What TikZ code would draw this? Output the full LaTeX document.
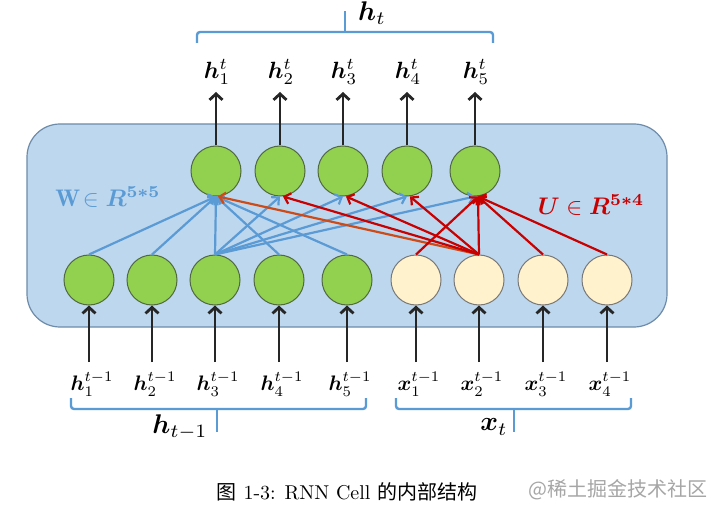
\documentclass[tikz,border=0pt]{standalone}
\usepackage{fontspec}
\usepackage{bm}
\newfontfamily\cjk{Noto Sans CJK SC}
\usetikzlibrary{arrows.meta}
\definecolor{boxfill}{RGB}{189,215,238}
\definecolor{boxdraw}{RGB}{110,140,170}
\definecolor{hgreen}{RGB}{146,208,80}
\definecolor{hgreenb}{RGB}{80,105,65}
\definecolor{xcream}{RGB}{255,242,204}
\definecolor{xcreamb}{RGB}{120,120,120}
\definecolor{wblue}{RGB}{91,155,213}
\definecolor{ured}{RGB}{200,0,0}
\definecolor{uorange}{RGB}{205,75,25}
\definecolor{darkarrow}{RGB}{38,38,38}
\begin{document}
\begin{tikzpicture}[x=1pt,y=-1pt,
  hnode/.style={circle,minimum size=50pt,inner sep=0pt,fill=hgreen,draw=hgreenb,line width=1pt},
  xnode/.style={circle,minimum size=50pt,inner sep=0pt,fill=xcream,draw=xcreamb,line width=1pt},
  lbl/.style={inner sep=0pt,scale=2.1},
  toplbl/.style={inner sep=0pt,scale=2.35},
  biglbl/.style={inner sep=0pt,scale=2.7},
  io/.style={draw=darkarrow,line width=2.8pt,-{Straight Barb[length=6pt,width=13pt]}},
  warrow/.style={draw=wblue,line width=2.2pt,-{Straight Barb[length=5.5pt,width=11pt]}},
  uarrow/.style={draw=ured,line width=2.2pt,-{Straight Barb[length=5.5pt,width=11pt]}},
  bracket/.style={draw=wblue,line width=2.4pt,rounded corners=3pt},
]
\useasboundingbox (0,0) rectangle (720,513);
\fill[white] (0,0) rectangle (720,513);

% cell box
\node[draw=boxdraw,fill=boxfill,line width=1.2pt,rounded corners=33pt,
      minimum width=640pt,minimum height=203pt,inner sep=0pt] (cell) at (347,225.5) {};

% top nodes
\foreach \i/\x in {1/216,2/280,3/343,4/407,5/475}{
  \node[hnode] (t\i) at (\x,171) {};
  \node[toplbl] (lt\i) at (\x+1,72) {$\bm{h}_{\i}^{t}$};
  \coordinate (at\i) at (\x,92);
}
% bottom nodes
\foreach \i/\x in {1/89,2/152,3/215,4/279,5/347}{
  \node[hnode] (b\i) at (\x,280) {};
  \node[lbl] (lb\i) at (\x+3,384) {$\bm{h}_{\i}^{t-1}$};
  \coordinate (ab\i) at (\x,362);
}
\foreach \i/\x in {1/416,2/479,3/543,4/607}{
  \node[xnode] (x\i) at (\x,280) {};
  \node[lbl] (lx\i) at (\x+3,384) {$\bm{x}_{\i}^{t-1}$};
  \coordinate (ax\i) at (\x,362);
}

% input/output arrows
\foreach \i in {1,...,5}{
  \draw[io] (t\i.north) -- (at\i);
  \draw[io] (ab\i) -- (b\i.south);
}
\foreach \i in {1,...,4}{
  \draw[io] (ax\i) -- (x\i.south);
}

% W connections
\foreach \i in {1,2,4,5}{
  \draw[warrow] (b\i.north) -- (t1.south);
}
\foreach \j in {1,...,5}{
  \draw[warrow] (b3.north) -- (t\j.south);
}
% U connections
\draw[uarrow,draw=uorange] (x2.north) -- ([xshift=2pt]t1.south);
\foreach \j in {2,3,4,5}{
  \draw[uarrow] (x2.north) -- ([xshift=3pt]t\j.south);
}
\foreach \i in {1,3,4}{
  \draw[uarrow] (x\i.north) -- ([xshift=3pt]t5.south);
}

% weight labels
\node[text=wblue,scale=2.4] (wlab) at (108,197) {$\mathbf{W}\!\in \bm{R}^{\bm{5*5}}$};
\node[text=ured,scale=2.4] (ulab) at (591,205) {$\bm{U}\in\bm{R}^{\bm{5*4}}$};

% brackets
\draw[bracket] (197,43) -- (197,32) -- (493,32) -- (493,43);
\draw[bracket] (345,32) -- (345,11);
\draw[bracket] (71,398) -- (71,409) -- (366,409) -- (366,398);
\draw[bracket] (217,409) -- (217,432);
\draw[bracket] (396,398) -- (396,409) -- (631,409) -- (631,398);
\draw[bracket] (514,409) -- (514,432);

\node[biglbl] (ht) at (372,13) {$\bm{h}_t$};
\node[biglbl] (htm) at (180,427) {$\bm{h}_{t-1}$};
\node[biglbl] (xt) at (494,427) {$\bm{x}_t$};

% caption
\node[scale=2.0] (cap) at (347,492) {{\cjk 图} 1-3: RNN Cell {\cjk 的内部结构}};
\node[scale=2.0,text=black!35] (wm) at (618,490) {{\cjk @稀土掘金技术社区}};
\end{tikzpicture}
\end{document}
